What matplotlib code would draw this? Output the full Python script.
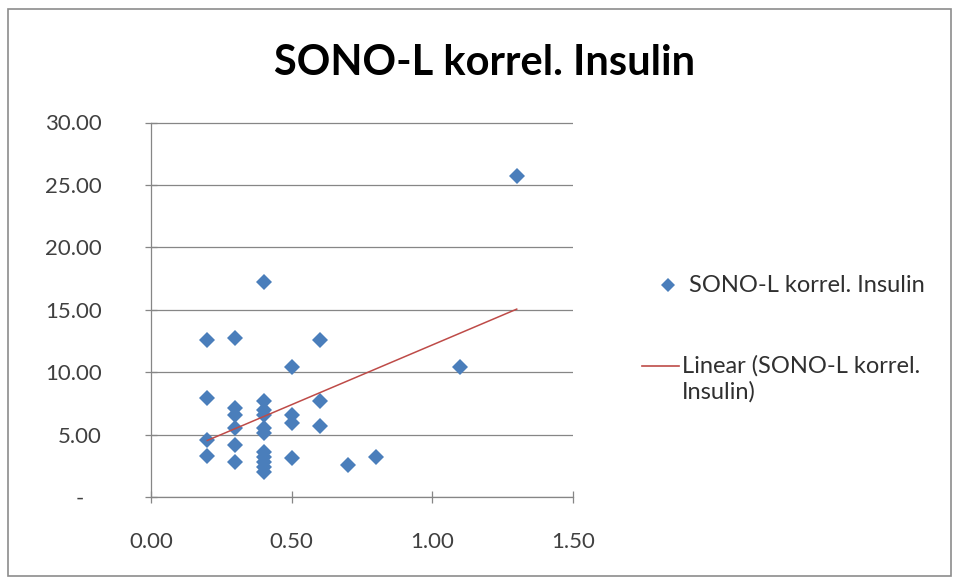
import numpy as np
import matplotlib.pyplot as plt
from matplotlib.patches import Rectangle
from matplotlib.lines import Line2D

# values
x_vals = [0.2, 0.2, 0.2, 0.2,
          0.3, 0.3, 0.3, 0.3, 0.3, 0.3,
          0.4, 0.4, 0.4, 0.4, 0.4, 0.4, 0.4, 0.4, 0.4, 0.4, 0.4,
          0.5, 0.5, 0.5, 0.5,
          0.6, 0.6, 0.6,
          0.7, 0.8, 1.1, 1.3]
y_vals = [12.6, 7.9, 4.6, 3.3,
          12.7, 7.1, 6.6, 5.5, 4.2, 2.8,
          17.2, 7.7, 7.0, 6.6, 5.5, 5.1, 3.6, 3.2, 2.8, 2.4, 2.0,
          10.4, 6.6, 5.9, 3.1,
          12.6, 7.7, 5.7,
          2.6, 3.2, 10.4, 25.7]
y_ticks = [0, 5, 10, 15, 20, 25, 30]
y_tick_labels = ["-   ", "5.00", "10.00", "15.00", "20.00", "25.00", "30.00"]
x_ticks = [0.0, 0.5, 1.0, 1.5]
x_tick_labels = ["0.00", "0.50", "1.00", "1.50"]
series_name = "SONO-L korrel. Insulin"
trend_name = ["Linear (SONO-L korrel.", "Insulin)"]

plt.rcParams['font.family'] = ['Lato', 'DejaVu Sans']

blue = '#4a7ebb'
red = '#be4b48'
W, H = 959, 583

fig = plt.figure(figsize=(9.59, 5.83), dpi=100)
fig.add_artist(Rectangle((0.008, 0.012), 0.984, 0.972, transform=fig.transFigure,
                         fill=False, edgecolor='#8c8c8c', linewidth=1.2))

ax = fig.add_axes([151 / W, 1 - 497 / H, 422 / W, 374.5 / H])

x = np.array(x_vals)
y = np.array(y_vals)
ax.plot(x, y, linestyle='none', marker='D', markersize=8.4,
        color=blue, markeredgewidth=0, zorder=3)

slope, intercept = np.polyfit(x, y, 1)
xt = np.array([x.min(), x.max()])
ax.plot(xt, slope * xt + intercept, color=red, linewidth=1.1, zorder=4)

ax.set_xlim(0, 1.5)
ax.set_ylim(0, 30)
ax.set_xticks(x_ticks)
ax.set_xticklabels(x_tick_labels)
ax.set_yticks(y_ticks)
ax.set_yticklabels(y_tick_labels)
ax.yaxis.grid(True, color='#868686', linewidth=0.9)
ax.set_axisbelow(True)
for s in ['top', 'right']:
    ax.spines[s].set_visible(False)
for s in ['left', 'bottom']:
    ax.spines[s].set_color('#868686')
    ax.spines[s].set_linewidth(0.9)
ax.tick_params(direction='inout', length=9, width=0.9, color='#868686',
               labelsize=16, labelcolor='#404040')
ax.tick_params(axis='x', pad=21)
ax.tick_params(axis='y', pad=31)

fig.text(485 / W, 1 - 75 / H, series_name, ha='center', va='baseline',
         fontsize=30, fontweight='bold', color='black')

# legend, drawn by hand so the line sits on the first text row
leg_size = 17
fig.add_artist(Line2D([668 / W], [1 - 285 / H], marker='D', markersize=7,
                      color=blue, markeredgewidth=0, transform=fig.transFigure))
fig.text(689 / W, 1 - 285 / H, series_name, ha='left', va='center',
         fontsize=leg_size, color='#303030')
fig.add_artist(Line2D([642 / W, 679 / W], [1 - 366 / H, 1 - 366 / H],
                      color=red, linewidth=1.2, transform=fig.transFigure))
fig.text(682 / W, 1 - 366 / H, trend_name[0], ha='left', va='center',
         fontsize=leg_size, color='#303030')
fig.text(682 / W, 1 - 392 / H, trend_name[1], ha='left', va='center',
         fontsize=leg_size, color='#303030')

fig.savefig("out.png", dpi=100)
